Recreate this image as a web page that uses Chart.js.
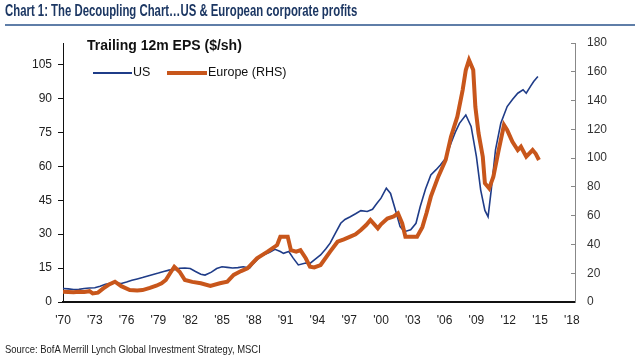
<!DOCTYPE html>
<html>
<head>
<meta charset="utf-8">
<script src="https://cdn.jsdelivr.net/npm/chart.js@4"></script>
<style>
  body { margin: 0; background: #fff; }
  #wrap { position: relative; width: 640px; height: 360px; overflow: hidden; font-family: "Liberation Sans", Arial, sans-serif; }
  #myChart { position: absolute; left: 0; top: 0; }
  .title { position: absolute; left: 5px; top: 2px; font-weight: bold; font-size: 16px; color: #1c3763; white-space: nowrap; transform: scale(0.71, 1); transform-origin: 0 0; }
  .rule { position: absolute; left: 5px; top: 24px; width: 630px; height: 2px; background: #5f7ea8; }
  .sub { position: absolute; left: 87px; top: 37px; font-weight: bold; font-size: 14px; color: #111; white-space: nowrap; }
  .leg { position: absolute; top: 65px; font-size: 12.5px; color: #111; white-space: nowrap; }
  .leg i { display: inline-block; vertical-align: middle; margin-right: 1px; }
  .src { position: absolute; left: 5px; top: 343px; font-size: 10.5px; color: #222; white-space: nowrap; transform: scale(0.9, 1); transform-origin: 0 0; }
</style>
</head>
<body>
<div id="wrap">
  <canvas id="myChart" width="640" height="360"></canvas>
  <div class="title">Chart 1: The Decoupling Chart…US &amp; European corporate profits</div>
  <div class="rule"></div>
  <div class="sub">Trailing 12m EPS ($/sh)</div>
  <div class="leg" style="left:93px"><i style="width:39px;height:2px;background:#1f3c88"></i>US</div>
  <div class="leg" style="left:167px"><i style="width:40px;height:4px;background:#c8561b"></i>Europe (RHS)</div>
  <div class="src">Source: BofA Merrill Lynch Global Investment Strategy, MSCI</div>
</div>
<script>
// US trailing EPS (left axis)
const usYears = [1970.0, 1970.5, 1971.0, 1971.5, 1972.0, 1972.5, 1973.0, 1973.5, 1974.0, 1974.5,
  1975.0, 1975.5, 1976.0, 1976.5, 1977.0, 1977.5, 1978.0, 1978.5, 1979.0, 1979.5,
  1980.0, 1980.5, 1981.0, 1981.5, 1982.0, 1982.5, 1983.0, 1983.4, 1984.0, 1984.5,
  1985.0, 1985.5, 1986.0, 1986.5, 1987.0, 1987.6, 1988.0, 1988.6, 1989.0, 1989.5,
  1990.0, 1990.5, 1990.8, 1991.3, 1991.7, 1992.2, 1992.9, 1993.3, 1993.8, 1994.3,
  1994.8, 1995.2, 1995.7, 1996.2, 1996.6, 1997.1, 1997.6, 1998.1, 1998.7, 1999.2,
  1999.6, 2000.0, 2000.5, 2000.9, 2001.4, 2001.8, 2002.2, 2002.8, 2003.3, 2003.7,
  2004.2, 2004.7, 2005.2, 2005.6, 2006.1, 2006.6, 2007.0, 2007.4, 2008.0, 2008.5,
  2009.0, 2009.4, 2009.8, 2010.1, 2010.4, 2010.8, 2011.3, 2011.9, 2012.4, 2012.9,
  2013.4, 2013.7, 2014.1, 2014.4, 2014.8];
const usEps = [6.0, 5.8, 5.5, 5.6, 6.0, 6.2, 6.3, 7.0, 7.8, 8.3,
  8.4, 8.2, 8.8, 9.6, 10.2, 10.8, 11.5, 12.2, 12.8, 13.5,
  14.1, 14.3, 14.9, 15.0, 14.8, 13.5, 12.3, 11.9, 13.2, 14.8,
  15.6, 15.3, 15.0, 15.2, 15.6, 15.0, 17.2, 20.0, 21.0, 22.0,
  23.3, 22.3, 21.5, 22.3, 19.5, 16.4, 17.2, 17.1, 19.0, 20.8,
  23.5, 26.0, 30.5, 34.8, 36.5, 37.7, 39.0, 40.4, 40.0, 41.0,
  43.5, 45.9, 50.3, 48.0, 40.0, 33.3, 31.1, 31.9, 34.8, 42.2,
  50.0, 56.2, 58.5, 60.6, 63.6, 70.2, 75.0, 79.0, 82.7, 77.6,
  64.3, 49.6, 40.5, 37.7, 49.6, 67.3, 79.0, 86.4, 89.5, 92.3,
  93.8, 92.3, 95.3, 97.5, 99.7];

// Europe trailing EPS (right axis)
const euYears = [1970.0, 1970.5, 1971.0, 1971.5, 1972.0, 1972.5, 1972.8, 1973.3, 1973.8, 1974.3,
  1974.9, 1975.5, 1976.3, 1977.0, 1977.5, 1978.2, 1978.8, 1979.3, 1979.7, 1980.1,
  1980.5, 1981.0, 1981.5, 1982.2, 1983.0, 1983.9, 1984.8, 1985.5, 1986.1, 1986.8,
  1987.4, 1988.3, 1989.3, 1990.2, 1990.5, 1991.2, 1991.5, 1992.0, 1992.4, 1992.9,
  1993.3, 1993.7, 1994.3, 1995.2, 1995.9, 1996.5, 1997.1, 1997.6, 1998.1, 1998.6,
  1999.0, 1999.7, 2000.0, 2000.6, 2001.2, 2001.6, 2002.0, 2002.3, 2002.8, 2003.4,
  2003.9, 2004.3, 2004.7, 2005.4, 2006.1, 2006.6, 2007.2, 2007.7, 2008.0, 2008.3,
  2008.7, 2008.9, 2009.2, 2009.6, 2009.8, 2010.2, 2010.6, 2011.1, 2011.6, 2011.9,
  2012.4, 2012.9, 2013.2, 2013.7, 2014.3, 2014.6, 2014.9];
const euEps = [7.2, 7.0, 6.8, 7.2, 7.0, 7.5, 6.0, 6.5, 9.5, 12.0,
  14.1, 11.0, 8.3, 8.0, 8.3, 9.8, 11.3, 13.0, 15.3, 20.0,
  24.5, 21.0, 15.3, 14.0, 13.0, 11.1, 13.0, 14.1, 18.8, 21.5,
  23.4, 30.4, 35.0, 39.6, 45.4, 45.4, 36.0, 35.0, 36.0, 30.4,
  24.5, 24.0, 25.7, 35.0, 41.9, 43.5, 45.4, 47.0, 50.0, 53.5,
  57.0, 51.2, 54.0, 58.0, 59.5, 61.6, 54.7, 45.4, 45.4, 45.4,
  52.0, 62.0, 73.2, 87.1, 98.7, 114.9, 128.8, 147.3, 161.2, 168.2,
  161.2, 135.7, 117.3, 101.0, 82.5, 79.0, 87.1, 105.6, 123.0, 119.5,
  111.4, 105.6, 107.9, 101.0, 105.6, 103.0, 98.7];

const xTicks = [1970, 1973, 1976, 1979, 1982, 1985, 1988, 1991, 1994, 1997, 2000, 2003, 2006, 2009, 2012, 2015, 2018];
const leftTicks = [0, 15, 30, 45, 60, 75, 90, 105];
const rightTicks = [0, 20, 40, 60, 80, 100, 120, 140, 160, 180];

const ctx = document.getElementById('myChart');
const tickFont = { family: '"Liberation Sans", Arial, sans-serif', size: 12 };

new Chart(ctx, {
    type: 'line',
    data: {
        datasets: [{
            label: 'US',
            data: usYears.map((y, i) => ({ x: y, y: usEps[i] })),
            borderColor: '#1f3c88',
            borderWidth: 1.6,
            pointRadius: 0,
            yAxisID: 'y',
            order: 2
        }, {
            label: 'Europe (RHS)',
            data: euYears.map((y, i) => ({ x: y, y: euEps[i] })),
            borderColor: '#c8561b',
            borderWidth: 4,
            pointRadius: 0,
            yAxisID: 'y2',
            order: 1
        }]
    },
    options: {
        responsive: false,
        animation: false,
        layout: { padding: { top: 43, left: 0, right: 0, bottom: 0 } },
        plugins: { legend: { display: false }, tooltip: { enabled: false } },
        scales: {
            x: {
                type: 'linear',
                min: 1970,
                max: 2018.3,
                afterBuildTicks: s => { s.ticks = xTicks.map(v => ({ value: v })); },
                afterFit: s => { s.height = 58; },
                grid: { display: true, drawOnChartArea: false, drawTicks: false },
                border: { color: '#111', width: 2 },
                ticks: {
                    padding: 11,
                    maxRotation: 0,
                    autoSkip: false,
                    color: '#222',
                    font: tickFont,
                    callback: v => "'" + String(v).slice(2)
                }
            },
            y: {
                position: 'left',
                min: 0,
                max: 114.5,
                afterBuildTicks: s => { s.ticks = leftTicks.map(v => ({ value: v })); },
                afterFit: s => { s.width = 63; },
                grid: { drawOnChartArea: false, tickLength: 5, color: '#111' },
                border: { color: '#111', width: 1 },
                ticks: { padding: 6, color: '#222', font: tickFont }
            },
            y2: {
                position: 'right',
                min: 0,
                max: 180,
                afterBuildTicks: s => { s.ticks = rightTicks.map(v => ({ value: v })); },
                afterFit: s => { s.width = 65; },
                grid: { drawOnChartArea: false, tickLength: -4, color: '#888' },
                border: { color: '#888', width: 1 },
                ticks: { padding: 16, color: '#333', font: tickFont }
            }
        }
    }
});
</script>
</body>
</html>
